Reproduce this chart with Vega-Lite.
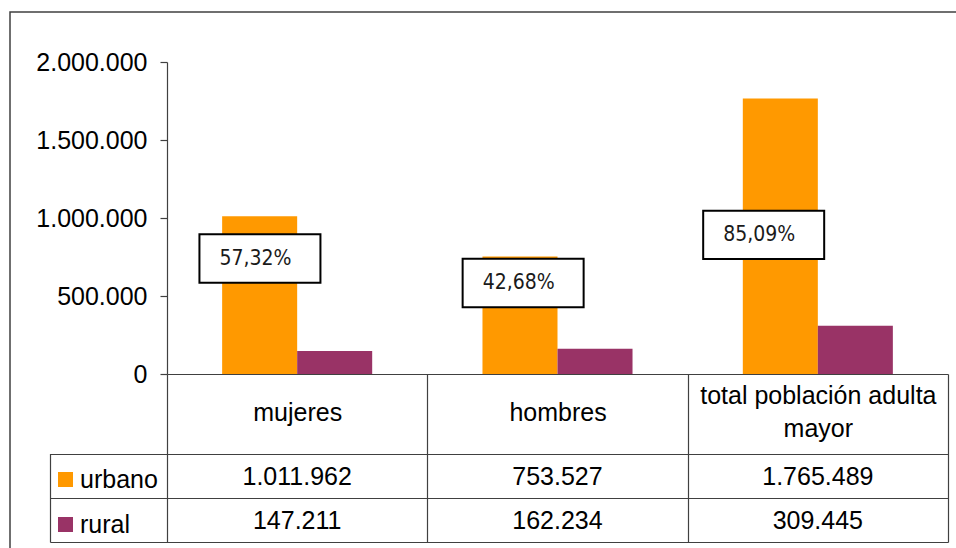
{
  "$schema": "https://vega.github.io/schema/vega-lite/v6.json",
  "width": 950,
  "height": 540,
  "autosize": {"type": "none"},
  "padding": {"left": 10, "top": 12, "right": -4, "bottom": -4},
  "background": "white",
  "config": {
    "locale": {"number": {"decimal": ",", "thousands": ".", "grouping": [3], "currency": ["$", ""]}},
    "view": {"stroke": "#404040", "strokeWidth": 1.5},
    "font": "Liberation Sans, Arial, sans-serif",
    "axis": {"labelFont": "Liberation Sans, Arial, sans-serif", "labelColor": "black", "domainColor": "#404040", "tickColor": "#404040", "domainWidth": 1.2, "tickWidth": 1.2}
  },
  "datasets": {
    "main": [
      {"cat": "mujeres", "series": "urbano", "value": 1011962},
      {"cat": "mujeres", "series": "rural", "value": 147211},
      {"cat": "hombres", "series": "urbano", "value": 753527},
      {"cat": "hombres", "series": "rural", "value": 162234},
      {"cat": "total población adulta mayor", "series": "urbano", "value": 1765489},
      {"cat": "total población adulta mayor", "series": "rural", "value": 309445}
    ],
    "labels": [
      {"cat": "mujeres", "pct": "57,32%"},
      {"cat": "hombres", "pct": "42,68%"},
      {"cat": "total población adulta mayor", "pct": "85,09%"}
    ]
  },
  "data": {"name": "main"},
  "resolve": {"scale": {"y": "independent"}, "axis": {"y": "independent"}},
  "layer": [
    {
      "layer": [
        {
          "mark": {"type": "bar"},
          "encoding": {
            "x": {
              "field": "cat", "type": "nominal", "sort": null, "title": null,
              "scale": {"domain": ["mujeres", "hombres", "total población adulta mayor"], "range": [157, 938], "paddingInner": 0, "paddingOuter": 0},
              "axis": {
                "title": null, "orient": "bottom", "offset": -178, "tickBand": "extent", "tickSize": 168,
                "labelPadding": {"condition": {"test": "datum.value == 'total población adulta mayor'", "value": -146.5}, "value": -129.5},
                "labelBaseline": "middle", "labelFontSize": 25, "labelLimit": 400,
                "labelLineHeight": 33, "labelAngle": 0, "labelOverlap": false, "labelFlush": false,
                "labelExpr": "datum.value == 'total población adulta mayor' ? ['total población adulta', 'mayor'] : datum.label"
              }
            },
            "xOffset": {"field": "series", "type": "nominal", "sort": ["urbano", "rural"], "scale": {"domain": ["urbano", "rural"], "paddingInner": 0, "paddingOuter": 0.735}},
            "y": {
              "field": "value", "type": "quantitative",
              "scale": {"domain": [0, 2000000], "range": [362, 50], "nice": false, "zero": true},
              "axis": {
                "title": null, "orient": "left", "offset": -157, "format": ",d", "values": [0, 500000, 1000000, 1500000, 2000000],
                "tickSize": 7, "labelPadding": 13, "labelFontSize": 25, "grid": false, "labelOverlap": false, "labelFlush": false, "labelBaseline": "middle"
              }
            },
            "color": {
              "field": "series", "type": "nominal",
              "scale": {"domain": ["urbano", "rural"], "range": ["#FF9900", "#993366"]},
              "legend": {
                "orient": "none", "legendX": 43, "legendY": 455, "title": null, "symbolType": "square", "symbolSize": 225,
                "symbolStrokeWidth": 0, "symbolOpacity": 1, "labelFontSize": 25, "labelFont": "Liberation Sans, Arial, sans-serif",
                "labelColor": "black", "rowPadding": 19, "labelOffset": 2, "padding": 0
              }
            }
          }
        },
        {
          "data": {"name": "labels"},
          "transform": [{"filter": "datum.cat == 'mujeres'"}],
          "encoding": {
            "x": {"field": "cat", "type": "nominal", "bandPosition": 0.357, "title": null},
            "y": {"datum": 740000, "type": "quantitative"}
          },
          "layer": [
            {"mark": {"type": "point", "shape": "M-1,-0.4H1V0.4H-1Z", "size": 14641, "filled": true, "fill": "white", "fillOpacity": 1, "stroke": "black", "strokeWidth": 2, "opacity": 1}},
            {"mark": {"type": "text", "align": "left", "baseline": "middle", "dx": -40.5, "fontSize": 21, "font": "Liberation Sans Narrow, Arial Narrow, DejaVu Sans Condensed, Roboto, sans-serif", "color": "#1a1a1a"}, "encoding": {"text": {"field": "pct"}}}
          ]
        },
        {
          "data": {"name": "labels"},
          "transform": [{"filter": "datum.cat == 'hombres'"}],
          "encoding": {
            "x": {"field": "cat", "type": "nominal", "bandPosition": 0.368, "title": null},
            "y": {"datum": 583000, "type": "quantitative"}
          },
          "layer": [
            {"mark": {"type": "point", "shape": "M-1,-0.4H1V0.4H-1Z", "size": 14641, "filled": true, "fill": "white", "fillOpacity": 1, "stroke": "black", "strokeWidth": 2, "opacity": 1}},
            {"mark": {"type": "text", "align": "left", "baseline": "middle", "dx": -40.5, "fontSize": 21, "font": "Liberation Sans Narrow, Arial Narrow, DejaVu Sans Condensed, Roboto, sans-serif", "color": "#1a1a1a"}, "encoding": {"text": {"field": "pct"}}}
          ]
        },
        {
          "data": {"name": "labels"},
          "transform": [{"filter": "datum.cat == 'total población adulta mayor'"}],
          "encoding": {
            "x": {"field": "cat", "type": "nominal", "bandPosition": 0.292, "title": null},
            "y": {"datum": 892000, "type": "quantitative"}
          },
          "layer": [
            {"mark": {"type": "point", "shape": "M-1,-0.4H1V0.4H-1Z", "size": 14641, "filled": true, "fill": "white", "fillOpacity": 1, "stroke": "black", "strokeWidth": 2, "opacity": 1}},
            {"mark": {"type": "text", "align": "left", "baseline": "middle", "dx": -40.5, "fontSize": 21, "font": "Liberation Sans Narrow, Arial Narrow, DejaVu Sans Condensed, Roboto, sans-serif", "color": "#1a1a1a"}, "encoding": {"text": {"field": "pct"}}}
          ]
        }
      ]
    },
    {
      "mark": {"type": "text", "baseline": "middle", "align": "center", "fontSize": 25, "color": "black", "dy": 1},
      "encoding": {
        "x": {"field": "cat", "type": "nominal", "title": null},
        "y": {
          "field": "series", "type": "nominal",
          "scale": {"domain": ["urbano", "rural"], "range": [441.5, 530], "paddingInner": 0, "paddingOuter": 0},
          "axis": {"orient": "right", "offset": -910, "tickBand": "extent", "tickSize": 898, "labels": false, "title": null, "grid": false}
        },
        "text": {"field": "value", "type": "quantitative", "format": ",d"}
      }
    }
  ]
}
